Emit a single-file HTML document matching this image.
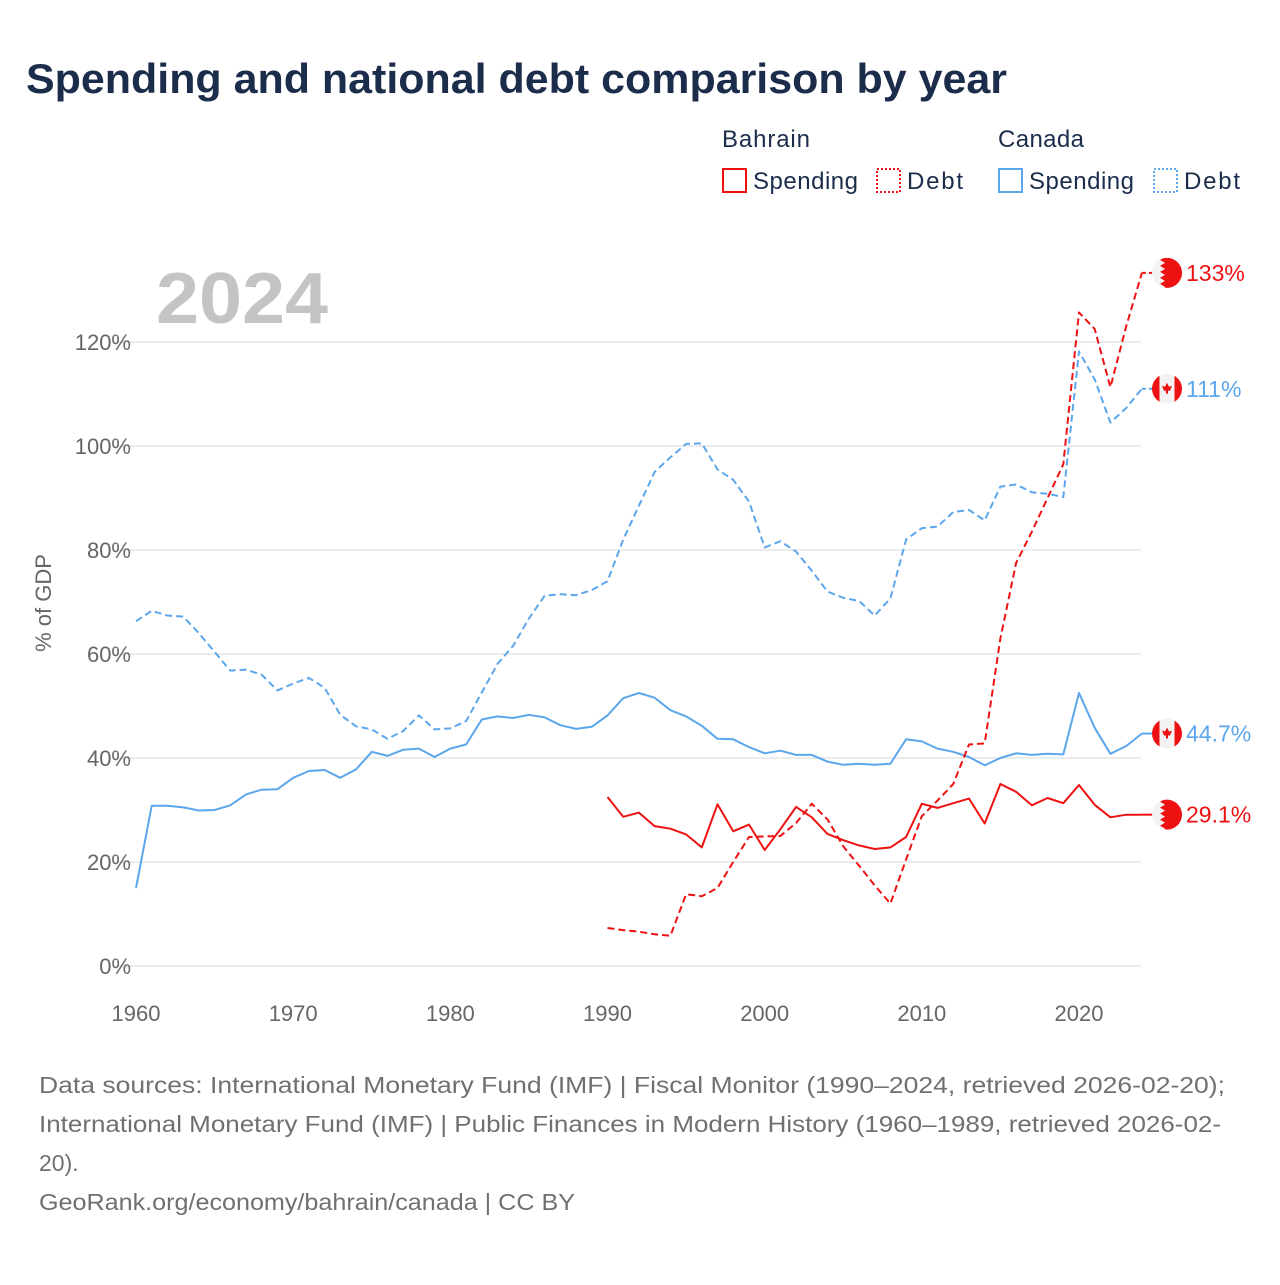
<!DOCTYPE html>
<html><head><meta charset="utf-8"><style>
body{margin:0;background:#fff;width:1280px;height:1280px;overflow:hidden;font-family:"Liberation Sans",sans-serif}
svg text{font-family:"Liberation Sans",sans-serif}
</style></head><body>
<svg id="chart" width="1280" height="1280">
<text x="26" y="93" font-size="42" font-weight="bold" fill="#1b2d4b" textLength="981" lengthAdjust="spacingAndGlyphs">Spending and national debt comparison by year</text>
<g font-size="24" fill="#1b2d4b">
<text x="722" y="147" fill="#1b2d4b" textLength="88">Bahrain</text>
<text x="998" y="147" fill="#1b2d4b" textLength="86">Canada</text>
<g><rect x="723" y="169" width="23" height="23" fill="none" stroke="#ee1111" stroke-width="2"/><text x="753" y="189" fill="#1b2d4b" textLength="105">Spending</text></g>
<g><rect x="877" y="169" width="23" height="23" fill="none" stroke="#ee1111" stroke-width="2" stroke-dasharray="2,2"/><text x="907" y="189" fill="#1b2d4b" textLength="56">Debt</text></g>
<g><rect x="999" y="169" width="23" height="23" fill="none" stroke="#5ca6ec" stroke-width="2"/><text x="1029" y="189" fill="#1b2d4b" textLength="105">Spending</text></g>
<g><rect x="1154" y="169" width="23" height="23" fill="none" stroke="#5ca6ec" stroke-width="2" stroke-dasharray="2,2"/><text x="1184" y="189" fill="#1b2d4b" textLength="56">Debt</text></g>
</g>
<text x="156" y="323" font-size="72" font-weight="bold" fill="#c4c4c4" textLength="172" lengthAdjust="spacingAndGlyphs">2024</text>
<text transform="translate(51,603) rotate(-90)" text-anchor="middle" font-size="22" fill="#666">% of GDP</text>
<defs><clipPath id="fc"><circle cx="0" cy="0" r="15"/></clipPath></defs>
<g id="grid"></g><g id="series"></g><g id="ends"></g>
<g font-size="23" fill="#707070">
<text x="39" y="1093" textLength="1186" lengthAdjust="spacingAndGlyphs">Data sources: International Monetary Fund (IMF) | Fiscal Monitor (1990–2024, retrieved 2026-02-20);</text>
<text x="39" y="1132" textLength="1182" lengthAdjust="spacingAndGlyphs">International Monetary Fund (IMF) | Public Finances in Modern History (1960–1989, retrieved 2026-02-</text>
<text x="39" y="1171">20).</text>
<text x="39" y="1210" textLength="536" lengthAdjust="spacingAndGlyphs">GeoRank.org/economy/bahrain/canada | CC BY</text>
</g>
</svg>
<script>
const yTicks=[0,20,40,60,80,100,120];
const xTicks=[1960,1970,1980,1990,2000,2010,2020];
const caStartYear=1960, bhStartYear=1990;
const caSpending=[15,30.8,30.8,30.5,29.9,30,30.9,33,33.9,34,36.2,37.5,37.7,36.2,37.8,41.2,40.4,41.6,41.8,40.2,41.8,42.6,47.4,48,47.7,48.3,47.8,46.3,45.6,46,48.2,51.5,52.5,51.6,49.2,48,46.2,43.7,43.6,42.1,40.9,41.4,40.6,40.6,39.3,38.7,38.9,38.7,38.9,43.6,43.2,41.8,41.2,40.2,38.6,40,40.9,40.6,40.8,40.7,52.5,45.8,40.8,42.3,44.7];
const caDebt=[66.3,68.3,67.4,67.2,64,60.4,56.8,57,56,53,54.3,55.4,53.5,48.3,46.1,45.5,43.7,45.2,48.2,45.5,45.7,47.1,52.6,58.1,61.6,66.8,71.2,71.5,71.3,72.3,74,82,88.5,95,97.8,100.4,100.5,95.5,93.5,89.3,80.5,81.7,79.7,76,72,70.8,70.2,67.4,70.7,82,84.2,84.5,87.3,87.7,85.7,92.2,92.6,91.1,90.8,90.2,118.2,112.8,104.5,107.3,111];
const bhSpending=[32.5,28.7,29.5,26.9,26.4,25.3,22.8,31.1,25.9,27.2,22.3,26.3,30.6,28.6,25.4,24.2,23.2,22.5,22.8,24.8,31.2,30.4,31.3,32.2,27.4,35,33.5,30.9,32.3,31.3,34.8,31,28.6,29.1,29.1];
const bhDebt=[7.3,6.9,6.6,6.1,5.8,13.8,13.4,15,20,24.8,24.9,25,27.5,31.2,28.2,23,19.3,15.5,12,20.5,28.8,31.8,35,42.6,42.8,63,77.5,83.5,90,96.5,125.7,122.5,111.3,123,133.3];
const endLabels=["29.1%","133%","44.7%","111%"];
const NS="http://www.w3.org/2000/svg";
const X=y=>136+(y-1960)*(1079-136)/60;
const Y=v=>966-v*5.2;
function mk(t,a,p){const e=document.createElementNS(NS,t);for(const k in a)e.setAttribute(k,a[k]);p.appendChild(e);return e;}
const grid=document.getElementById('grid');
yTicks.forEach(v=>{
 const l=mk('line',{x1:112,x2:1141,y1:Y(v),y2:Y(v),stroke:'#e6e6e6','stroke-width':1.5},grid);
 
 
 const t=mk('text',{x:131,y:Y(v)+8,'text-anchor':'end','font-size':22,fill:'#666'},grid);
 t.textContent=v+'%';
 
 
});
xTicks.forEach(v=>{
 const t=mk('text',{x:X(v),y:1021,'text-anchor':'middle','font-size':22,fill:'#666'},grid);
 t.textContent=v;
 
 
});
const ser=document.getElementById('series');
function line(arr,start,col,dash,name){
 const d=arr.map((v,i)=>(i?'L':'M')+X(start+i).toFixed(1)+','+Y(v).toFixed(1)).join('');
 const p=mk('path',{d:d,fill:'none',stroke:col,'stroke-width':2,'stroke-linejoin':'round'},ser);
 if(dash)p.setAttribute('stroke-dasharray','7,4');
 
 
}
const RED='#ee1111',BLUE='#5ca6ec';
line(caDebt,caStartYear,BLUE,true,'canada-debt-line');
line(caSpending,caStartYear,BLUE,false,'canada-spending-line');
line(bhDebt,bhStartYear,RED,true,'bahrain-debt-line');
line(bhSpending,bhStartYear,RED,false,'bahrain-spending-line');
const ends=document.getElementById('ends');
function flag(v,country,col,label,dash,name){
 const y=Y(v),cx=1167,xe=X(2024);
 const c=mk('line',{x1:xe,x2:cx-14,y1:y,y2:y,stroke:col,'stroke-width':2},ends);
 if(dash)c.setAttribute('stroke-dasharray','4,3');
 const g=mk('g',{transform:`translate(${cx},${y})`},ends);
 
 
 const inner=mk('g',{'clip-path':'url(#fc)'},g);
 mk('rect',{x:-15,y:-15,width:30,height:30,fill:'#f2f2f2'},inner);
 if(country==='bh'){
  let d='M16,-16L-2,-16';
  for(let i=0;i<5;i++){d+=`L-7,${-13+i*6}L-2,${-10+i*6}`;}
  d+='L-2,16L16,16Z';
  mk('path',{d:d,fill:RED},inner);
 } else {
  mk('rect',{x:-15,y:-15,width:7.5,height:30,fill:RED},inner);
  mk('rect',{x:7.5,y:-15,width:7.5,height:30,fill:RED},inner);
  mk('path',{d:'M0,-6L2,-2L5,-3L3,2L1,2L1,5L-1,5L-1,2L-3,2L-5,-3L-2,-2Z',fill:RED},inner);
 }
 const t=mk('text',{x:1186,y:y+8,'font-size':23,fill:col},ends);
 t.textContent=label;
 
 
}
flag(bhSpending[bhSpending.length-1],'bh',RED,endLabels[0],false,'bahrain-spending');
flag(bhDebt[bhDebt.length-1],'bh',RED,endLabels[1],true,'bahrain-debt');
flag(caSpending[caSpending.length-1],'ca',BLUE,endLabels[2],false,'canada-spending');
flag(caDebt[caDebt.length-1],'ca',BLUE,endLabels[3],true,'canada-debt');
</script>
</body></html>
